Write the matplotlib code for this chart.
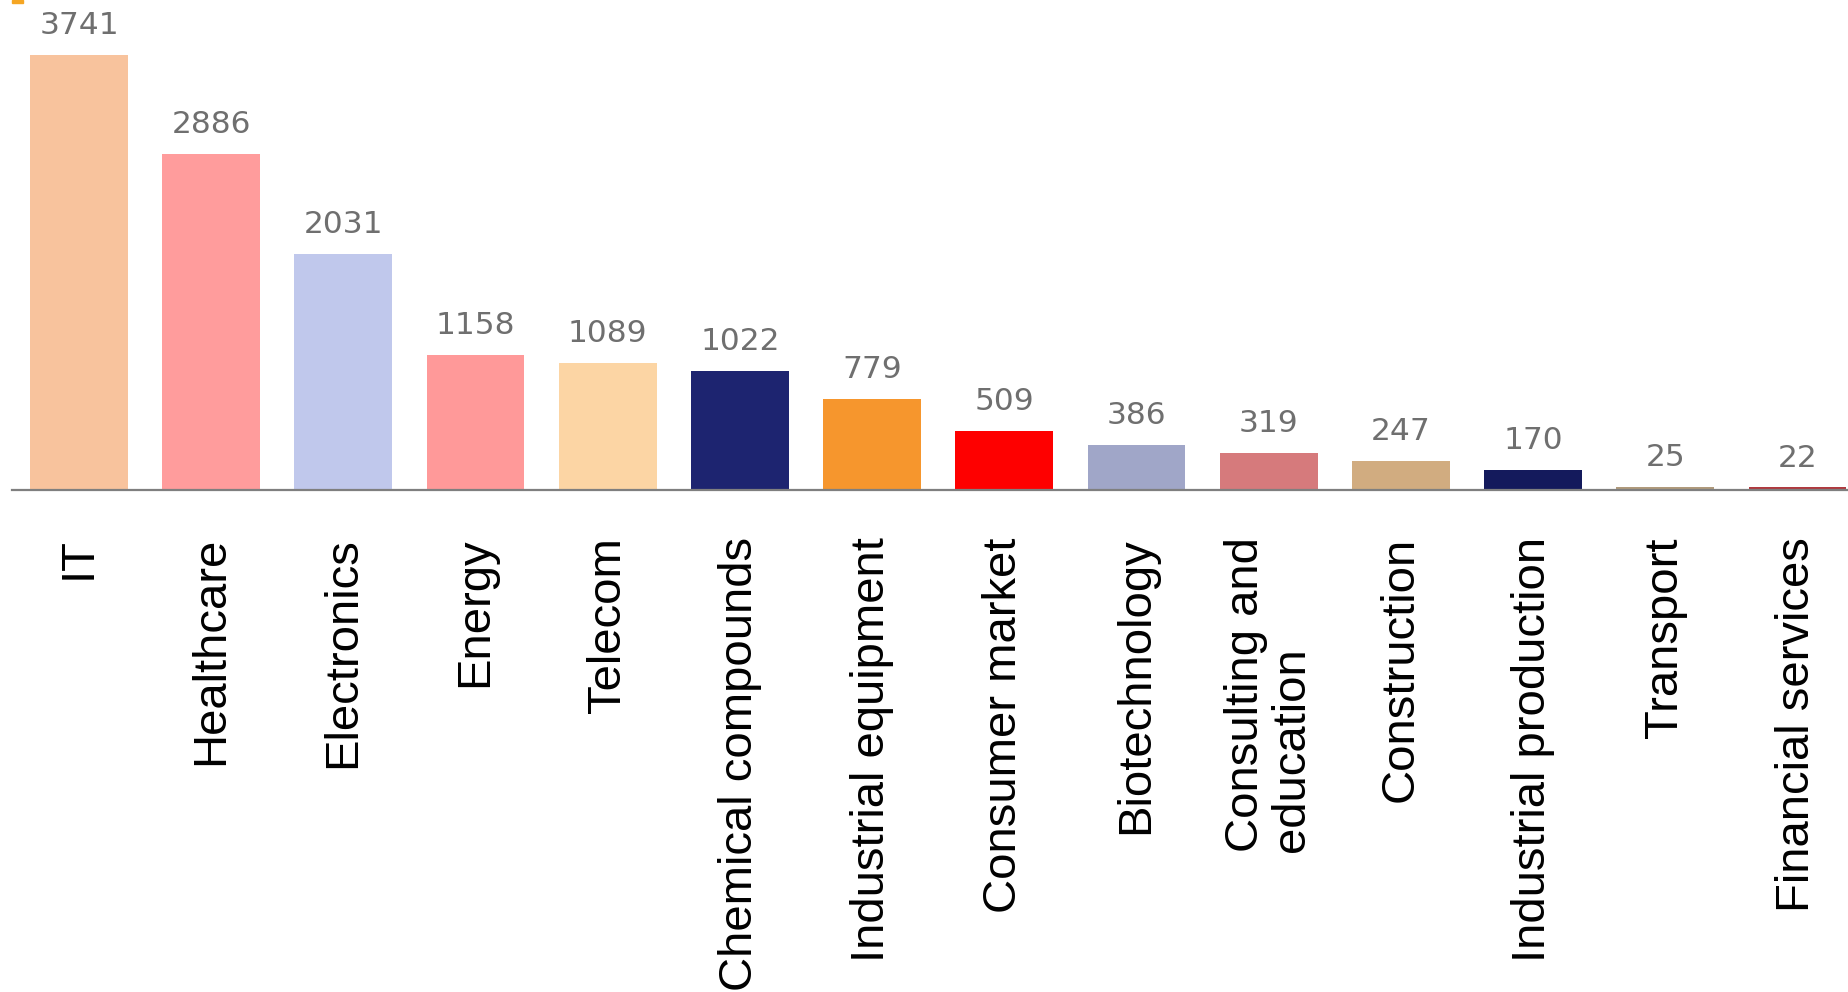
import matplotlib
matplotlib.use("Agg")
import matplotlib.pyplot as plt
from matplotlib.patches import Rectangle

# Number of projects per industry
industries = [
    "IT", "Healthcare", "Electronics", "Energy", "Telecom",
    "Chemical compounds", "Industrial equipment", "Consumer market",
    "Biotechnology", "Consulting and\neducation", "Construction",
    "Industrial production", "Transport", "Financial services",
]
counts = [3741, 2886, 2031, 1158, 1089, 1022, 779, 509, 386, 319, 247, 170, 25, 22]
bar_colors = [
    "#F8C39D", "#FF9C9C", "#C0C8EC", "#FF9999", "#FCD5A4",
    "#1D2470", "#F6962D", "#FE0000", "#A0A6C8", "#D67A7C",
    "#D1AC80", "#141A5C", "#B09A7C", "#B03A3F",
]

W, H = 1849, 992
fig = plt.figure(figsize=(W / 100, H / 100), dpi=100)
fig.patch.set_facecolor("white")

axis_y = 490   # pixel row of the baseline, from the top
left_px = 12
ax = fig.add_axes([left_px / W, 1 - axis_y / H, 1 - left_px / W, axis_y / H])

x = list(range(len(industries)))
bars = ax.bar(x, counts, width=0.74, color=bar_colors, zorder=2)

for rect, val in zip(bars, counts):
    ax.annotate(str(val),
                xy=(rect.get_x() + rect.get_width() / 2, rect.get_height()),
                xytext=(0, 15), textcoords="offset points",
                ha="center", va="baseline",
                fontsize=22.5, color="#6f6f6f", family="DejaVu Sans")

ax.set_xlim(-0.507, 13.39)
ax.set_ylim(0, 4210)

ax.set_xticks(x)
ax.set_xticklabels(industries, rotation=90, fontsize=34,
                   family="Liberation Sans", color="black",
                   ha="center", va="top", linespacing=1.05)
for lbl in ax.get_xticklabels():
    lbl.set_multialignment("left")
ax.tick_params(axis="x", length=0, pad=34)
ax.set_yticks([])

for side in ("left", "top", "right"):
    ax.spines[side].set_visible(False)
ax.spines["bottom"].set_color("#7f7f7f")
ax.spines["bottom"].set_linewidth(1.6)
ax.patch.set_alpha(0)

# small orange marker in the top-left corner
fig.patches.append(Rectangle((12 / W, 1 - 3 / H), 11 / W, 3 / H,
                             transform=fig.transFigure, color="#F5A623"))

fig.savefig("out.png", dpi=100)
